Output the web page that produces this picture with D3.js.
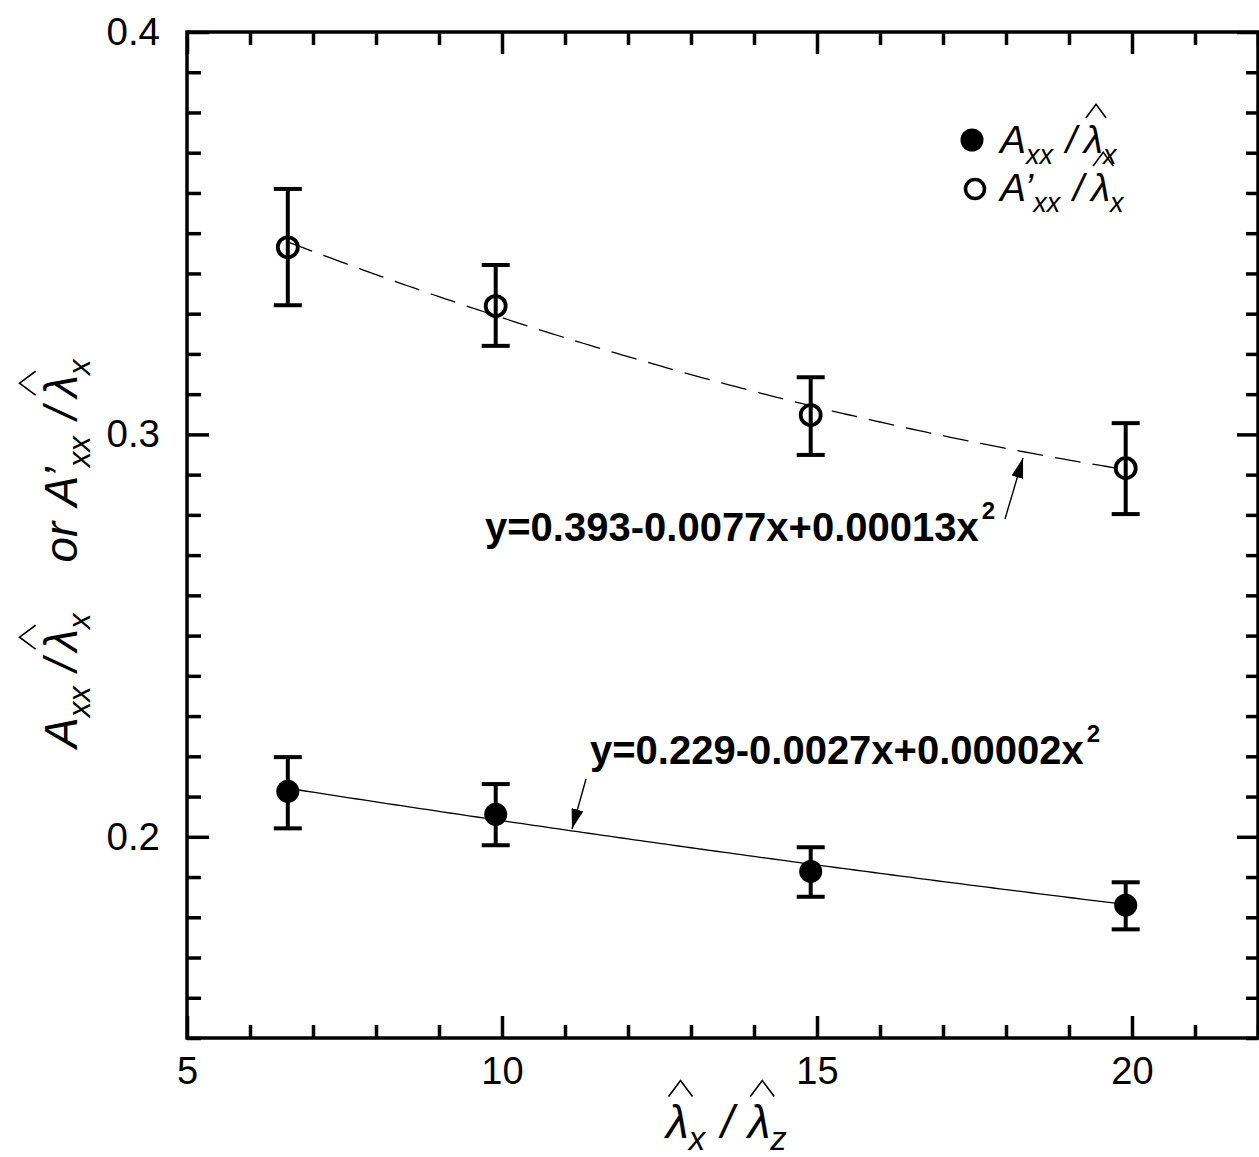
<!DOCTYPE html>
<html>
<head>
<meta charset="utf-8">
<script src="https://cdn.jsdelivr.net/npm/d3@7"></script>
<style>
  html, body { margin: 0; padding: 0; background: #fff; }
  svg { display: block; }
  text { font-family: "Liberation Sans", Arial, sans-serif; fill: #000; white-space: pre; }
</style>
</head>
<body>
<svg id="chart" width="1259" height="1157"></svg>
<script>
// Aspect ratio of the wavelengths (x) for the four cases
const ratio = [6.6, 9.9, 14.9, 19.9];

// A'xx / lambda_x  (open circles) with error-bar limits
const openMean = [0.3465, 0.3319, 0.3048, 0.2916];
const openHi   = [0.3610, 0.3421, 0.3142, 0.3028];
const openLo   = [0.3321, 0.3220, 0.2949, 0.2802];

// Axx / lambda_x  (filled circles) with error-bar limits
const filledMean = [0.2113, 0.2056, 0.1914, 0.1830];
const filledHi   = [0.2198, 0.2131, 0.1974, 0.1887];
const filledLo   = [0.2021, 0.1979, 0.1851, 0.1770];

// Quadratic fits y = c0 + c1 x + c2 x^2, as printed on the chart
const fitOpen   = [0.393, -0.0077, 0.00013];
const fitFilled = [0.229, -0.0027, 0.00002];
const fitOpenLabel   = ["y=0.393-0.0077x+0.00013x", "2"];
const fitFilledLabel = ["y=0.229-0.0027x+0.00002x", "2"];

// Axis ticks
const xMajorTicks = [5, 10, 15, 20];
const yMajorTicks = [0.2, 0.3, 0.4];

const svg = d3.select("#chart");
const plotL = 187, plotR = 1258, plotT = 32, plotB = 1038;

const x = d3.scaleLinear().domain([5, 22]).range([plotL, plotR]);
const y = d3.scaleLinear().domain([0.15, 0.4]).range([plotB, plotT]);

const xMinor = d3.range(5, 23, 1).filter(v => !xMajorTicks.includes(v));
const yMinor = d3.range(15, 41, 1).map(v => v / 100).filter(v => !yMajorTicks.some(m => Math.abs(m - v) < 1e-9));

function styleAxis(g) {
  g.select(".domain").remove();
  g.selectAll(".tick line").attr("stroke", "#000").attr("stroke-width", 3.5);
}

// Bottom axis: major ticks with labels, inward minor ticks
svg.append("g").attr("transform", `translate(0,${plotB})`)
  .call(d3.axisBottom(x).tickValues(xMajorTicks).tickSize(-22).tickPadding(19).tickFormat(d3.format("d")))
  .call(styleAxis)
  .call(g => g.selectAll(".tick text").attr("font-size", 38).attr("fill", "#000"));
svg.append("g").attr("transform", `translate(0,${plotB})`)
  .call(d3.axisBottom(x).tickValues(xMinor).tickSize(-13).tickFormat(""))
  .call(styleAxis);
// Top axis ticks (no labels)
svg.append("g").attr("transform", `translate(0,${plotT})`)
  .call(d3.axisTop(x).tickValues(xMajorTicks).tickSize(-22).tickFormat(""))
  .call(styleAxis);
svg.append("g").attr("transform", `translate(0,${plotT})`)
  .call(d3.axisTop(x).tickValues(xMinor).tickSize(-13).tickFormat(""))
  .call(styleAxis);

// Left axis
svg.append("g").attr("transform", `translate(${plotL},0)`)
  .call(d3.axisLeft(y).tickValues(yMajorTicks).tickSize(-22).tickPadding(27).tickFormat(d3.format(".1f")))
  .call(styleAxis)
  .call(g => g.selectAll(".tick text").attr("font-size", 38.5).attr("fill", "#000"));
svg.append("g").attr("transform", `translate(${plotL},0)`)
  .call(d3.axisLeft(y).tickValues(yMinor).tickSize(-14).tickFormat(""))
  .call(styleAxis);
// Right axis ticks
svg.append("g").attr("transform", `translate(${plotR},0)`)
  .call(d3.axisRight(y).tickValues(yMajorTicks).tickSize(-21).tickFormat(""))
  .call(styleAxis);
svg.append("g").attr("transform", `translate(${plotR},0)`)
  .call(d3.axisRight(y).tickValues(yMinor).tickSize(-12).tickFormat(""))
  .call(styleAxis);

// Frame
svg.append("rect")
  .attr("x", plotL).attr("y", plotT)
  .attr("width", plotR - plotL).attr("height", plotB - plotT)
  .attr("fill", "none").attr("stroke", "#000").attr("stroke-width", 3.5);

// Fitted curves
const poly = c => v => c[0] + c[1] * v + c[2] * v * v;
const xs = d3.range(ratio[0], ratio[ratio.length - 1] + 0.001, 0.1);
const line = d3.line().x(d => x(d[0])).y(d => y(d[1]));

svg.append("path")
  .attr("d", line(xs.map(v => [v, poly(fitOpen)(v)])))
  .attr("fill", "none").attr("stroke", "#000").attr("stroke-width", 1.3)
  .attr("stroke-dasharray", "26,12");
svg.append("path")
  .attr("d", line(xs.map(v => [v, poly(fitFilled)(v)])))
  .attr("fill", "none").attr("stroke", "#000").attr("stroke-width", 1.3);

// Error bars
function errorBars(mean, lo, hi) {
  const g = svg.append("g").attr("stroke", "#000").attr("stroke-width", 4);
  ratio.forEach((r, i) => {
    const cx = x(r);
    g.append("line").attr("x1", cx).attr("x2", cx).attr("y1", y(lo[i])).attr("y2", y(hi[i]));
    g.append("line").attr("x1", cx - 14).attr("x2", cx + 14).attr("y1", y(lo[i])).attr("y2", y(lo[i]));
    g.append("line").attr("x1", cx - 14).attr("x2", cx + 14).attr("y1", y(hi[i])).attr("y2", y(hi[i]));
  });
}
errorBars(openMean, openLo, openHi);
errorBars(filledMean, filledLo, filledHi);

// Markers
svg.append("g").selectAll("circle").data(ratio).join("circle")
  .attr("cx", d => x(d)).attr("cy", (d, i) => y(openMean[i])).attr("r", 10)
  .attr("fill", "none").attr("stroke", "#000").attr("stroke-width", 3.8);
svg.append("g").selectAll("circle").data(ratio).join("circle")
  .attr("cx", d => x(d)).attr("cy", (d, i) => y(filledMean[i])).attr("r", 11.5)
  .attr("fill", "#000");

// Rich text with subscripts and hats over lambda
function richText(parent, parts, opt) {
  const t = parent.append("text")
    .attr("x", opt.x || 0).attr("y", opt.y || 0)
    .attr("font-size", opt.size)
    .attr("text-anchor", opt.anchor || "start")
    .attr("font-style", opt.italic ? "italic" : "normal")
    .attr("font-weight", opt.bold ? "bold" : "normal");
  let shift = 0;
  const hats = [];
  let idx = 0;
  parts.forEach(p => {
    const target = p.dy || 0;
    const ts = t.append("tspan").text(p.t).attr("dy", target - shift);
    if (p.size) ts.attr("font-size", p.size);
    if (p.dx) ts.attr("dx", p.dx);
    shift = target;
    if (p.hat) hats.push(idx);
    idx += p.t.length;
  });
  const node = t.node();
  const n = node.getNumberOfChars();
  hats.forEach(i => {
    if (i >= n) return;
    const e = node.getExtentOfChar(i);
    const base = (opt.y || 0);
    const cx = e.x + e.width * 0.5 + opt.size * 0.07;
    const w = opt.size * 0.26, h1 = base - opt.size * 0.9, h2 = base - opt.size * 1.25;
    parent.append("path")
      .attr("d", `M${cx - w},${h1}L${cx},${h2}L${cx + w},${h1}`)
      .attr("fill", "none").attr("stroke", "#000").attr("stroke-width", 1.6);
  });
  return t;
}

// Legend
svg.append("circle").attr("cx", 972).attr("cy", 140).attr("r", 11.5).attr("fill", "#000");
svg.append("circle").attr("cx", 975).attr("cy", 189).attr("r", 9.5)
  .attr("fill", "none").attr("stroke", "#000").attr("stroke-width", 3.5);
const lg = svg.append("g");
richText(lg, [
  { t: "A" }, { t: "xx", size: 27, dy: 11 }, { t: " /", dy: 0, dx: 2 }, { t: "λ", hat: true, dx: 7 }, { t: "x", size: 27, dy: 11 }
], { x: 1000, y: 153, size: 39, italic: true });
richText(lg, [
  { t: "A’" }, { t: "xx", size: 27, dy: 11 }, { t: " /", dy: 0, dx: 2 }, { t: "λ", hat: true, dx: 7 }, { t: "x", size: 27, dy: 11 }
], { x: 1000, y: 201, size: 39, italic: true });

// X axis title
const xt = svg.append("g");
richText(xt, [
  { t: "λ", hat: true }, { t: "x", size: 33, dy: 12 }, { t: " /", dy: 0, dx: 3 }, { t: "λ", hat: true, dx: 14 }, { t: "z", size: 33, dy: 12 }
], { x: 666, y: 1138, size: 46, italic: true, anchor: "start" });

// Y axis title (rotated, reading upwards)
const yt = svg.append("g").attr("transform", "translate(77,748) rotate(-90)");
richText(yt, [
  { t: "A" }, { t: "xx", size: 31, dy: 13 }, { t: " /", dy: 0, dx: 2 }, { t: "λ", hat: true, dx: 7 }, { t: "x", size: 31, dy: 13 },
  { t: "    or ", dy: 0 }, { t: "A’", dx: 4 }, { t: "xx", size: 31, dy: 13 }, { t: " /", dy: 0, dx: 4 }, { t: "λ", hat: true, dx: 9 }, { t: "x", size: 31, dy: 13 }
], { x: 0, y: 0, size: 46, italic: true, anchor: "start" });

// Fit equations with arrows
const defs = svg.append("defs");
defs.append("marker").attr("id", "arrowhead")
  .attr("viewBox", "0 0 20 12").attr("refX", 20).attr("refY", 6)
  .attr("markerWidth", 20).attr("markerHeight", 12)
  .attr("markerUnits", "userSpaceOnUse").attr("orient", "auto")
  .append("path").attr("d", "M0,0L20,6L0,12Z").attr("fill", "#000");

function equation(label, px, py) {
  const t = svg.append("text").attr("x", px).attr("y", py)
    .attr("font-size", 40).attr("font-weight", "bold");
  t.append("tspan").text(label[0]);
  t.append("tspan").text(label[1]).attr("font-size", 24).attr("dy", -22).attr("dx", 3);
}
equation(fitOpenLabel, 485, 541);
equation(fitFilledLabel, 590, 764);

svg.append("line").attr("x1", 1005).attr("y1", 519).attr("x2", 1023).attr("y2", 458)
  .attr("stroke", "#000").attr("stroke-width", 1.4).attr("marker-end", "url(#arrowhead)");
svg.append("line").attr("x1", 586).attr("y1", 779).attr("x2", 572).attr("y2", 829)
  .attr("stroke", "#000").attr("stroke-width", 1.4).attr("marker-end", "url(#arrowhead)");
</script>
</body>
</html>
